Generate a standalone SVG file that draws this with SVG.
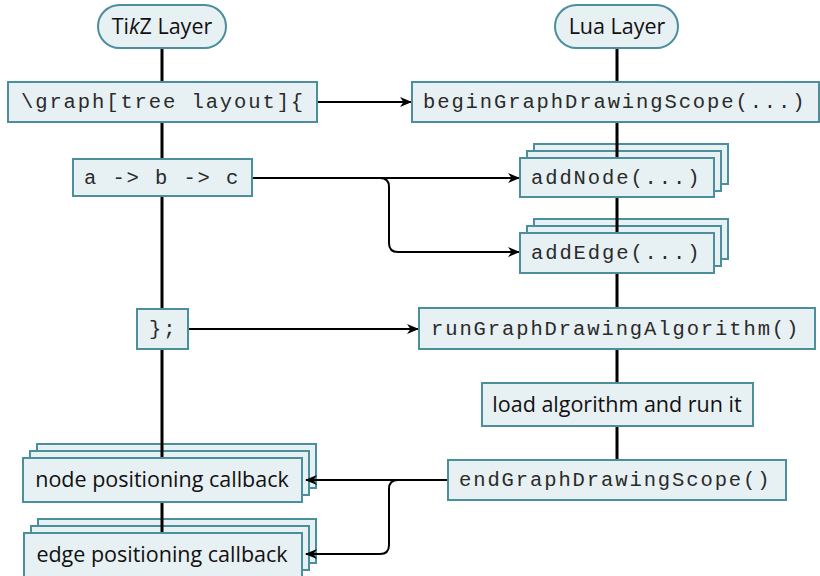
<svg xmlns="http://www.w3.org/2000/svg" width="820" height="576" viewBox="0 0 820 576">
  <style>
    .box { fill: #e7f0f2; stroke: #4b8f9c; stroke-width: 2; }
    .code { font-family: "Liberation Mono", "Courier New", monospace; font-size: 20.5px; letter-spacing: 1.9px; fill: #2a2a2a; }
    .sans { font-family: "Open Sans", "Noto Sans", sans-serif; font-size: 21.5px; fill: #111; }
    .axis { stroke: #000; stroke-width: 3; fill: none; }
    .arrow { stroke: #000; stroke-width: 2; fill: none; marker-end: url(#tip); }
  </style>
  <defs>
    <marker id="tip" viewBox="0 0 12 10" refX="11" refY="5" markerWidth="12" markerHeight="10" markerUnits="userSpaceOnUse" orient="auto">
      <path d="M0,0 L12,5 L0,10 L3.5,5 Z" fill="#000"/>
    </marker>
  </defs>

  <rect width="820" height="576" fill="#fff"/>

  <!-- stacked back layers of repeated calls -->
  <g id="stack-backs">
    <rect class="box" x="534" y="144" width="194" height="40"/>
    <rect class="box" x="527" y="151" width="194" height="40"/>
    <rect class="box" x="534" y="219" width="194" height="40"/>
    <rect class="box" x="527" y="226" width="194" height="40"/>
    <rect class="box" x="37" y="444" width="279" height="44"/>
    <rect class="box" x="30" y="451" width="279" height="44"/>
    <rect class="box" x="38" y="519" width="278" height="44"/>
    <rect class="box" x="31" y="526" width="278" height="44"/>
  </g>

  <!-- connectors: layer timelines and calls between layers -->
  <g id="connectors">
    <path class="axis" d="M162,48 V82 M162,122 V159 M162,196 V309 M162,349 V458 M162,502 V533"/>
    <path class="axis" d="M617,48 V82 M617,122 V158 M617,197 V233 M617,273 V308 M617,349 V383 M617,426 V460"/>
    <path class="arrow" d="M317,102 H411"/>
    <path class="arrow" d="M252,178 H519"/>
    <path class="arrow" d="M252,178 H380 Q389,178 389,187 V243 Q389,252 398,252 H519"/>
    <path class="arrow" d="M188,329 H418"/>
    <path class="arrow" d="M448,480 H306"/>
    <path class="arrow" d="M448,480 H398 Q389,480 389,489 V545 Q389,554 380,554 H306"/>
  </g>

  <g id="tikz-layer">
    <rect class="box" x="98" y="5" width="128" height="43" rx="21.5"/>
    <text class="sans" x="162" y="33.5" text-anchor="middle">Ti<tspan font-style="italic">k</tspan>Z Layer</text>
  </g>
  <g id="lua-layer">
    <rect class="box" x="555" y="5" width="123" height="43" rx="21.5"/>
    <text class="sans" x="617" y="33.5" text-anchor="middle">Lua Layer</text>
  </g>

  <g id="graph-open">
    <rect class="box" x="8" y="82" width="309" height="40"/>
    <text class="code" x="21" y="108">\graph[tree layout]{</text>
  </g>
  <g id="begin-scope">
    <rect class="box" x="412" y="82" width="407" height="40"/>
    <text class="code" x="423" y="108">beginGraphDrawingScope(...)</text>
  </g>
  <g id="graph-body">
    <rect class="box" x="73" y="159" width="179" height="37"/>
    <text class="code" x="84" y="184">a -&gt; b -&gt; c</text>
  </g>
  <g id="add-node">
    <rect class="box" x="520" y="158" width="194" height="39"/>
    <text class="code" x="531" y="184">addNode(...)</text>
  </g>
  <g id="add-edge">
    <rect class="box" x="520" y="233" width="194" height="40"/>
    <text class="code" x="531" y="259">addEdge(...)</text>
  </g>
  <g id="graph-close">
    <rect class="box" x="137" y="309" width="51" height="40"/>
    <text class="code" x="149" y="335">};</text>
  </g>
  <g id="run-algorithm">
    <rect class="box" x="419" y="308" width="396" height="41"/>
    <text class="code" x="431" y="335">runGraphDrawingAlgorithm()</text>
  </g>
  <g id="load-algorithm">
    <rect class="box" x="482" y="383" width="271" height="43"/>
    <text class="sans" x="617" y="412" text-anchor="middle">load algorithm and run it</text>
  </g>
  <g id="end-scope">
    <rect class="box" x="448" y="460" width="338" height="40"/>
    <text class="code" x="459" y="486">endGraphDrawingScope()</text>
  </g>
  <g id="node-callback">
    <rect class="box" x="23" y="458" width="279" height="44"/>
    <text class="sans" x="162" y="487" text-anchor="middle">node positioning callback</text>
  </g>
  <g id="edge-callback">
    <rect class="box" x="24" y="533" width="278" height="44"/>
    <text class="sans" x="162" y="562" text-anchor="middle">edge positioning callback</text>
  </g>
</svg>
